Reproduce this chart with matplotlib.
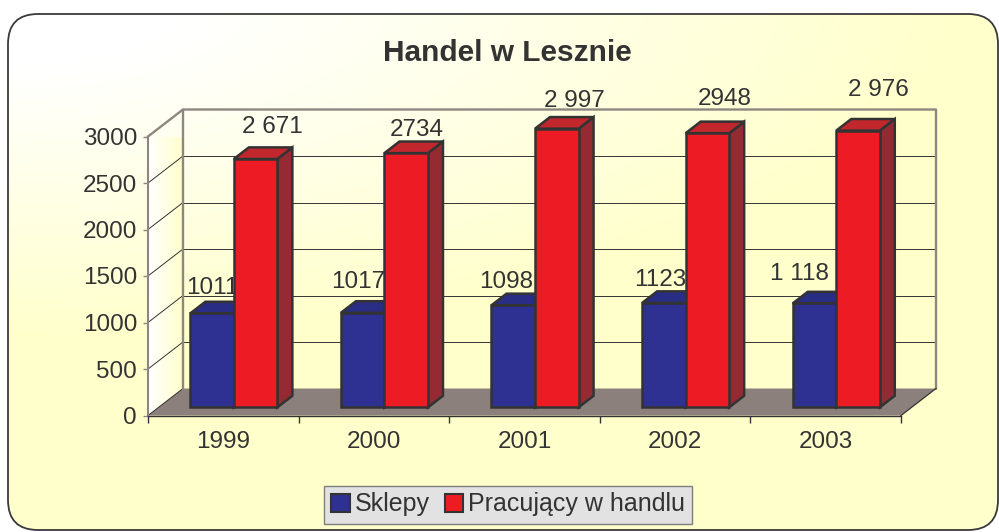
import numpy as np
import matplotlib.pyplot as plt
from matplotlib.patches import Polygon, FancyBboxPatch, Patch

# data
years = ["1999", "2000", "2001", "2002", "2003"]
sklepy = [1011, 1017, 1098, 1123, 1118]
pracujacy = [2671, 2734, 2997, 2948, 2976]
sklepy_txt = ["1011", "1017", "1098", "1123", "1 118"]
pracujacy_txt = ["2 671", "2734", "2 997", "2948", "2 976"]
y_ticks = [0, 500, 1000, 1500, 2000, 2500, 3000]

# hand-placed label nudges in the original (pixels: right, up)
sk_dx = [0, -4, -7, -4, -15]
sk_dy = [28, 34, 26, 26, 32]
pr_dx = [17, 11, 18, 17, 20]
pr_dy = [35, 26, 30, 37, 43]

W, H = 999, 532
plt.rcParams['font.family'] = ['Liberation Sans', 'DejaVu Sans']
TXT = '#333333'
FS = 17.5

fig = plt.figure(figsize=(W / 100, H / 100), dpi=100)

# background with rounded frame and white->yellow gradient
bg = fig.add_axes([0, 0, 1, 1])
bg.axis('off')
gx, gy = np.meshgrid(np.linspace(0, 1, 300), np.linspace(0, 1, 160))
t = np.clip(np.sqrt(gx ** 2 + (gy * H / 350) ** 2) * 1.3 - 0.25, 0, 1)[..., None]
img = np.array([1, 1, 1.0]) * (1 - t) + np.array([1, 1, 0.8]) * t
frame = FancyBboxPatch((8, 14), W - 9, H - 16, boxstyle="round,pad=0,rounding_size=30",
                       fc='none', ec='#3a3a3a', lw=1.3, zorder=3)
bg.add_patch(frame)
im = bg.imshow(img, extent=(0, W, H, 0), aspect='auto', interpolation='bilinear', zorder=1)
im.set_clip_path(frame)
bg.set_xlim(0, W)
bg.set_ylim(H, 0)

# front plane of the 3D plot, in pixels
L, R, T, B = 148, 901, 136.5, 415.5
ax = fig.add_axes([L / W, 1 - B / H, (R - L) / W, (B - T) / H])
ax.patch.set_visible(False)
DX = 35 / ((R - L) / 5)
DY = 27 / ((B - T) / 3000)
ymax = 3000


def P(x, v, z):
    return (x + z * DX, v + z * DY)


# left wall with gradient
lw_pts = [P(-0.5, 0, 0), P(-0.5, 0, 1), P(-0.5, ymax, 1), P(-0.5, ymax, 0)]
wall = Polygon(lw_pts, closed=True, fc='none', ec='none')
ax.add_patch(wall)
wg = np.linspace(0, 1, 50)[None, :, None]
wimg = np.array([1, 1, 1.0]) * (1 - wg) + np.array([1, 1, 0.8]) * wg
wim = ax.imshow(np.repeat(wimg, 2, axis=0), extent=(-0.5, -0.5 + DX, 0, ymax + DY),
                aspect='auto', zorder=0.5, clip_on=True)
wim.set_clip_path(wall)

# floor
ax.add_patch(Polygon([P(-0.5, 0, 0), P(4.5, 0, 0), P(4.5, 0, 1), P(-0.5, 0, 1)],
                     closed=True, fc='#8C807C', ec='none', clip_on=False, zorder=1))

# gridlines
for v in y_ticks[:-1]:
    a, b, c = P(-0.5, v, 0), P(-0.5, v, 1), P(4.5, v, 1)
    ax.plot([a[0], b[0]], [a[1], b[1]], color='#333333', lw=0.7, clip_on=False, zorder=1.5)
    if v > 0:
        ax.plot([b[0], c[0]], [b[1], c[1]], color='#333333', lw=0.7, clip_on=False, zorder=1.5)

# wall outlines
WALL = '#8E8680'
pts = [P(-0.5, ymax, 0), P(-0.5, ymax, 1), P(4.5, ymax, 1), P(4.5, 0, 1)]
ax.plot([p[0] for p in pts], [p[1] for p in pts], color=WALL, lw=1.7, clip_on=False, zorder=2)
a, b = P(-0.5, 0, 1), P(-0.5, ymax, 1)
ax.plot([a[0], b[0]], [a[1], b[1]], color=WALL, lw=1.7, clip_on=False, zorder=2)
a, b = P(4.5, 0, 0), P(4.5, 0, 1)
ax.plot([a[0], b[0]], [a[1], b[1]], color='#333333', lw=0.9, clip_on=False, zorder=2)

# bars
w = 0.289
z0, z1 = 0.30, 0.73


def bar(x0, x1, v, cf, ct, cs, zo):
    front = [P(x0, 0, z0), P(x1, 0, z0), P(x1, v, z0), P(x0, v, z0)]
    top = [P(x0, v, z0), P(x1, v, z0), P(x1, v, z1), P(x0, v, z1)]
    side = [P(x1, 0, z0), P(x1, 0, z1), P(x1, v, z1), P(x1, v, z0)]
    for poly, c in ((side, cs), (top, ct), (front, cf)):
        ax.add_patch(Polygon(poly, closed=True, fc=c, ec='#333333', lw=1.8,
                             joinstyle='miter', clip_on=False, zorder=zo))


base = 0.358 * FS * 100 / 72  # centre of digits -> baseline
for i in range(len(years)):
    zo = 3 + i
    bar(i - w, i, sklepy[i], '#2E3192', '#2A2D84', '#1F2266', zo)
    ax.annotate(sklepy_txt[i], xy=P(i - w / 2, sklepy[i], z0),
                xytext=(sk_dx[i], sk_dy[i] - base), textcoords='offset pixels',
                ha='center', va='baseline', fontsize=FS, color=TXT,
                annotation_clip=False, zorder=zo + 0.1)
    bar(i, i + w, pracujacy[i], '#ED1C24', '#C1272D', '#952A33', zo + 0.2)
    ax.annotate(pracujacy_txt[i], xy=P(i + w / 2, pracujacy[i], z0),
                xytext=(pr_dx[i], pr_dy[i] - base), textcoords='offset pixels',
                ha='center', va='baseline', fontsize=FS, color=TXT,
                annotation_clip=False, zorder=20)

ax.set_xlim(-0.5, 4.5)
ax.set_ylim(0, ymax)

# axes
for s in ['top', 'right']:
    ax.spines[s].set_visible(False)
ax.spines['left'].set_color(WALL)
ax.spines['left'].set_linewidth(1.5)
ax.spines['bottom'].set_color('#333333')
ax.spines['bottom'].set_linewidth(1.0)
ax.spines['left'].set_zorder(2)
ax.spines['bottom'].set_zorder(2)

ax.set_yticks(y_ticks)
ax.set_yticklabels([str(v) for v in y_ticks], fontsize=FS, color=TXT)
ax.tick_params(axis='y', length=3.6, width=1, color=WALL, pad=4.3, direction='out')
ax.set_xticks(range(len(years)))
ax.set_xticklabels(years, fontsize=FS, color=TXT)
ax.set_xticks(np.arange(-0.5, len(years), 1), minor=True)
ax.tick_params(axis='x', which='major', length=0, pad=11.5)
ax.tick_params(axis='x', which='minor', length=5, width=1, color='#333333', direction='out')

# title
fig.text(507 / W, 1 - 61 / H, "Handel w Lesznie", ha='center', va='baseline',
         fontsize=21.5, fontweight='bold', color=TXT)

# legend
handles = [Patch(fc='#2E3192', ec='#333333', lw=1.5), Patch(fc='#ED1C24', ec='#333333', lw=1.5)]
leg = fig.legend(handles, ["Sklepy", "Pracujący w handlu"], loc='center',
                 bbox_to_anchor=(508 / W, 1 - 504.5 / H), ncol=2, fontsize=18,
                 frameon=True, fancybox=False, edgecolor='#7f7f7f', facecolor='#e2e2e2',
                 framealpha=1, handlelength=0.75, handleheight=0.72, handletextpad=0.2,
                 columnspacing=0.6, borderpad=0.28, borderaxespad=0)
leg.get_frame().set_linewidth(1.0)
for tx in leg.get_texts():
    tx.set_color(TXT)

fig.savefig("out.png", dpi=100)
